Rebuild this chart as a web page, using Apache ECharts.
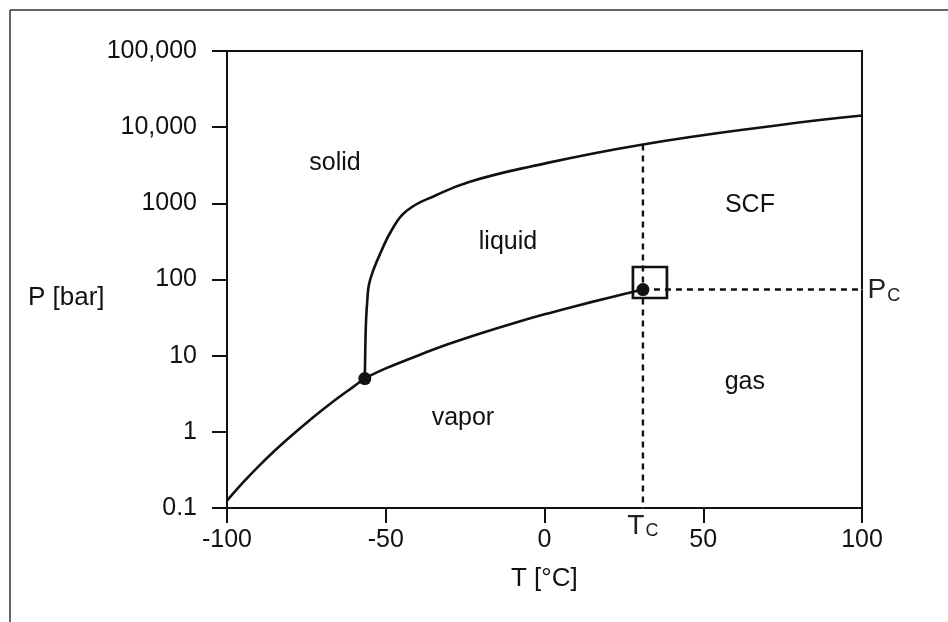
<!DOCTYPE html>
<html>
<head>
<meta charset="utf-8">
<script src="https://cdn.jsdelivr.net/npm/echarts@6/dist/echarts.min.js"></script>
<style>
html,body{margin:0;padding:0;background:#fff;}
#chart{width:948px;height:622px;}
</style>
</head>
<body>
<div id="chart"></div>
<script>
// ---- data ----
const xTicks = [-100, -50, 0, 50, 100];
const pTickValues = [0.1, 1, 10, 100, 1000, 10000, 100000];
const pTickLabels = ['0.1', '1', '10', '100', '1000', '10,000', '100,000'];

// sublimation + vaporization curve (T in °C, P in bar)
const vaporT = [-100, -95, -90, -85, -80, -75, -70, -65, -60, -56.6, -50, -40, -30, -20, -10, 0, 10, 20, 31];
const vaporP = [0.125, 0.215, 0.355, 0.565, 0.87, 1.31, 1.93, 2.8, 3.95, 5.0, 6.8, 10.0, 14.3, 19.7, 26.5, 34.9, 45.0, 57.3, 73.8];

// melting curve
const meltT = [-56.6, -56.4, -56.2, -55.8, -55.3, -53.9, -51.7, -48.1, -43.4, -34.0, -23.5, -4.6, 30.1, 74.2, 100];
const meltP = [5, 15, 29, 54, 85, 133, 221, 447, 800, 1285, 1923, 3027, 5838, 10690, 14200];

const triplePoint = [-56.6, 5.0];
const criticalPoint = [31, 73.8];
const tcLineTopP = 5900;

const regionNames = ['solid', 'liquid', 'SCF', 'vapor', 'gas'];
const regionT = [-66, -11.5, 64.7, -25.7, 63.1];
const regionP = [3380, 310, 950, 1.52, 4.5];

const FONT = '"Liberation Sans", Arial, Helvetica, sans-serif';
const INK = '#111';

const zip = (a, b) => a.map((v, i) => [v, b[i]]);

function pLabel(v) {
  let best = 0, bd = Infinity;
  pTickValues.forEach((t, i) => {
    const d = Math.abs(Math.log10(v) - Math.log10(t));
    if (d < bd) { bd = d; best = i; }
  });
  return bd < 0.01 ? pTickLabels[best] : '';
}

const chart = echarts.init(document.getElementById('chart'), null, {renderer: 'canvas'});

const option = {
  animation: false,
  backgroundColor: '#fff',
  grid: {
    left: 227, right: 86, top: 51, bottom: 114,
    show: true, borderColor: INK, borderWidth: 2,
    containLabel: false, outerBoundsMode: 'none'
  },
  xAxis: {
    type: 'value', min: -100, max: 100, interval: 50,
    axisLine: {show: true, onZero: false, lineStyle: {color: INK, width: 2}},
    axisTick: {show: true, inside: false, length: 15, lineStyle: {color: INK, width: 2}},
    splitLine: {show: false},
    axisLabel: {
      margin: 20, color: INK, fontFamily: FONT, fontSize: 25,
      formatter: v => xTicks.includes(v) ? String(v) : ''
    }
  },
  yAxis: {
    type: 'log', logBase: 10, min: 0.1, max: 100000, splitNumber: 6,
    axisLine: {show: true, onZero: false, lineStyle: {color: INK, width: 2}},
    axisTick: {show: true, inside: false, length: 15, lineStyle: {color: INK, width: 2}},
    splitLine: {show: false},
    minorTick: {show: false},
    axisLabel: {
      margin: 30, color: INK, fontFamily: FONT, fontSize: 25,
      formatter: v => pLabel(v)
    }
  },
  graphic: [
    {type: 'line', shape: {x1: 10, y1: 10, x2: 948, y2: 10}, style: {stroke: '#333', lineWidth: 1.5}, silent: true},
    {type: 'line', shape: {x1: 10, y1: 10, x2: 10, y2: 622}, style: {stroke: '#333', lineWidth: 1.5}, silent: true},
    {type: 'text', left: 28, top: 285, style: {text: 'P [bar]', fill: INK, font: '26px ' + FONT}, silent: true},
    {type: 'text', left: 511, top: 566, style: {text: 'T [°C]', fill: INK, font: '26px ' + FONT}, silent: true}
  ],
  series: [
    {
      name: 'vapor curve', type: 'line', data: zip(vaporT, vaporP),
      symbol: 'none', smooth: 0.3, clip: false,
      lineStyle: {color: INK, width: 2.6}
    },
    {
      name: 'melting curve', type: 'line', data: zip(meltT, meltP),
      symbol: 'none', smooth: 0.45, clip: false,
      lineStyle: {color: INK, width: 2.6}
    },
    {
      name: 'Tc line', type: 'line',
      data: [[criticalPoint[0], tcLineTopP], [criticalPoint[0], pTickValues[0]]],
      symbol: 'none', lineStyle: {color: INK, width: 2.4, type: [6, 5]}
    },
    {
      name: 'Pc line', type: 'line',
      data: [criticalPoint, [xTicks[xTicks.length - 1], criticalPoint[1]]],
      symbol: 'none', lineStyle: {color: INK, width: 2.4, type: [6, 5]}
    },
    {
      name: 'critical box', type: 'scatter', data: [criticalPoint],
      symbol: 'rect', symbolSize: [34, 31], symbolOffset: [7, -7],
      itemStyle: {color: 'rgba(0,0,0,0)', borderColor: INK, borderWidth: 2.6, opacity: 1},
      z: 3
    },
    {
      name: 'points', type: 'scatter', data: [triplePoint, criticalPoint],
      symbol: 'circle', symbolSize: 13,
      itemStyle: {color: INK, opacity: 1}, z: 4
    },
    {
      name: 'regions', type: 'scatter',
      data: regionNames.map((n, i) => ({name: n, value: [regionT[i], regionP[i]]})),
      symbolSize: 1, itemStyle: {color: '#fff', opacity: 1},
      label: {
        show: true, position: 'inside', formatter: p => p.name,
        color: INK, fontFamily: FONT, fontSize: 25, opacity: 1
      }
    },
    {
      name: 'critical labels', type: 'scatter',
      data: [
        {name: 'Pc', value: [xTicks[xTicks.length - 1], criticalPoint[1]],
         label: {position: 'right', distance: 5, formatter: '{a|P}{b|C}'}},
        {name: 'Tc', value: [criticalPoint[0], pTickValues[0]],
         label: {position: 'bottom', distance: 2, formatter: '{a|T}{b|C}'}}
      ],
      symbolSize: 1, itemStyle: {color: '#fff', opacity: 1},
      label: {
        show: true, color: '#222', fontFamily: FONT, opacity: 1,
        rich: {
          a: {fontSize: 28, fontFamily: FONT, color: '#222', verticalAlign: 'bottom', lineHeight: 30},
          b: {fontSize: 18, fontFamily: FONT, color: '#222', verticalAlign: 'bottom', lineHeight: 30, padding: [0, 0, 0, 1]}
        }
      }
    }
  ]
};

chart.setOption(option);
</script>
</body>
</html>
